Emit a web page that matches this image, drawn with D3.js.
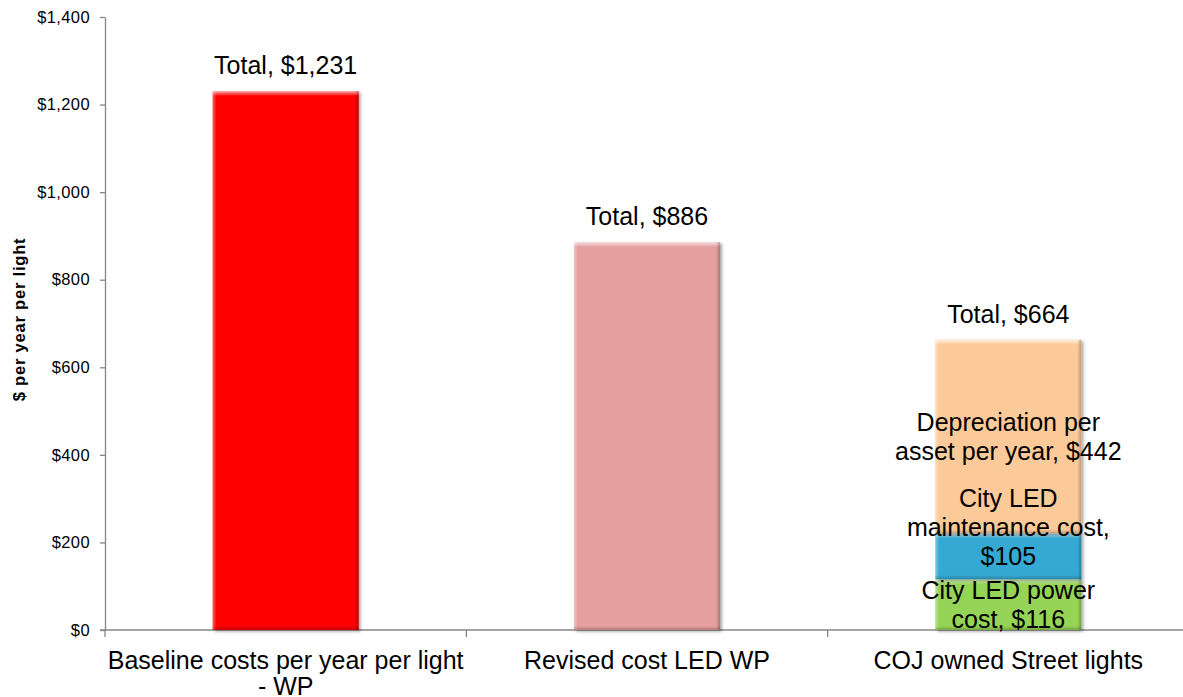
<!DOCTYPE html>
<html>
<head>
<meta charset="utf-8">
<script src="https://cdn.jsdelivr.net/npm/d3@7"></script>
<style>
  html, body { margin: 0; padding: 0; background: #fff; }
  svg { display: block; font-family: "Liberation Sans", Arial, sans-serif; }
</style>
</head>
<body>
<svg id="chart" width="1183" height="697"></svg>
<script>
// ---- data ----
const categories = ["Baseline costs per year per light\n- WP", "Revised cost LED WP", "COJ owned Street lights"];
const baselineValues = [1231, 0, 0];
const revisedValues = [0, 886, 0];
const powerValues = [0, 0, 116];
const maintenanceValues = [0, 0, 105];
const depreciationValues = [0, 0, 442];
const totalLabels = ["Total, $1,231", "Total, $886", "Total, $664"];
const segmentLabels = ["City LED power\ncost, $116", "City LED\nmaintenance cost,\n$105", "Depreciation per\nasset per year, $442"];
const yTicks = [0, 200, 400, 600, 800, 1000, 1200, 1400];
const yTitle = "$ per year per light";

// ---- layout ----
const W = 1183, H = 697;
const plot = { left: 105, right: 1189, top: 17, bottom: 630 };
const svg = d3.select("#chart");

const x = d3.scaleBand().domain(categories).range([plot.left, plot.right]).paddingInner(0).paddingOuter(0);
const barFrac = 0.404;
const barW = x.bandwidth() * barFrac;
const barX = c => x(c) + (x.bandwidth() - barW) / 2;
const y = d3.scaleLinear().domain([0, 1400]).range([plot.bottom, plot.top]);

const defs = svg.append("defs");
const f = defs.append("filter").attr("id", "shadow").attr("x", "-10%").attr("y", "-10%").attr("width", "130%").attr("height", "130%");
f.append("feDropShadow").attr("dx", 2).attr("dy", 1.5).attr("stdDeviation", 1.5).attr("flood-color", "#000").attr("flood-opacity", 0.35);
function grad(id, x2, y2, stops) {
  const g = defs.append("linearGradient").attr("id", id).attr("x1", 0).attr("y1", 0).attr("x2", x2).attr("y2", y2);
  stops.forEach(s => g.append("stop").attr("offset", s[0]).attr("stop-color", s[1]).attr("stop-opacity", s[2]));
}
grad("hiTop", 0, 1, [[0, "#fff", 0.7], [1, "#fff", 0]]);
grad("hiLeft", 1, 0, [[0, "#fff", 0.35], [1, "#fff", 0]]);
grad("shBottom", 0, 1, [[0, "#000", 0], [1, "#000", 0.22]]);
grad("shRight", 1, 0, [[0, "#000", 0], [1, "#000", 0.25]]);

// ---- series ----
const series = [
  { name: "Baseline", values: baselineValues, color: "#FE0404" },
  { name: "Revised", values: revisedValues, color: "#E49F9E" },
  { name: "Power", values: powerValues, color: "#95D456" },
  { name: "Maintenance", values: maintenanceValues, color: "#36A9D3" },
  { name: "Depreciation", values: depreciationValues, color: "#FCCA98" }
];
const stackKeys = series.map(s => s.name);
const rows = categories.map((c, i) => {
  const r = { cat: c };
  series.forEach(s => r[s.name] = s.values[i]);
  return r;
});
const stacked = d3.stack().keys(stackKeys)(rows);

// ---- axes ----
const yAxis = d3.axisLeft(y).tickValues(yTicks).tickSize(5).tickSizeOuter(0).tickPadding(10)
  .tickFormat(d => "$" + d3.format(",")(d));
const gy = svg.append("g").attr("transform", `translate(${plot.left},0)`).call(yAxis);
gy.select(".domain").attr("stroke", "#868686").attr("stroke-width", 1.3);
gy.selectAll(".tick line").attr("stroke", "#868686").attr("stroke-width", 1.3);
gy.selectAll(".tick text").attr("font-size", 16.5).attr("letter-spacing", "0.4px").attr("fill", "#000")
  .attr("font-family", "Liberation Sans, Arial, sans-serif");

const gx = svg.append("g");
gx.append("line").attr("x1", plot.left - 5).attr("x2", plot.right).attr("y1", y(0)).attr("y2", y(0))
  .attr("stroke", "#868686").attr("stroke-width", 1.3);
const boundaries = categories.map(c => x(c)).concat([x(categories[categories.length - 1]) + x.bandwidth()]);
gx.selectAll("line.tk").data(boundaries).join("line").attr("class", "tk")
  .attr("x1", d => d).attr("x2", d => d).attr("y1", y(0)).attr("y2", y(0) + 7)
  .attr("stroke", "#868686").attr("stroke-width", 1.3);

// ---- bars ----
stacked.forEach((layer, li) => {
  const s = series[li];
  layer.forEach((d, i) => {
    if (d[1] - d[0] <= 0) return;
    const c = categories[i];
    const x0 = barX(c), y0 = y(d[1]), h = y(d[0]) - y(d[1]);
    const g = svg.append("g");
    g.append("rect").attr("x", x0).attr("y", y0).attr("width", barW).attr("height", h)
      .attr("fill", s.color).attr("filter", "url(#shadow)");
    g.append("rect").attr("x", x0).attr("y", y0).attr("width", barW).attr("height", Math.min(5, h)).attr("fill", "url(#hiTop)");
    g.append("rect").attr("x", x0).attr("y", y0).attr("width", 4).attr("height", h).attr("fill", "url(#hiLeft)");
    g.append("rect").attr("x", x0 + barW - 4).attr("y", y0).attr("width", 4).attr("height", h).attr("fill", "url(#shRight)");
    g.append("rect").attr("x", x0).attr("y", y0 + h - Math.min(4, h)).attr("width", barW).attr("height", Math.min(4, h)).attr("fill", "url(#shBottom)");
  });
});

// ---- labels ----
const labelSize = 25, lineH = 29;
function multiline(text, cx, cy, shiftLines) {
  const lines = text.split("\n");
  const n = lines.length;
  const t = svg.append("text").attr("text-anchor", "middle").attr("font-size", labelSize).attr("fill", "#000");
  lines.forEach((ln, k) => {
    t.append("tspan").attr("x", cx).attr("y", cy + (k - (n - 1) / 2 - shiftLines) * lineH)
      .attr("dominant-baseline", "central").text(ln);
  });
}
// totals above bars
const totals = rows.map(r => d3.sum(stackKeys, k => r[k]));
categories.forEach((c, i) => {
  svg.append("text").attr("x", x(c) + x.bandwidth() / 2).attr("y", y(totals[i]) - 17)
    .attr("text-anchor", "middle").attr("font-size", labelSize).attr("fill", "#000").text(totalLabels[i]);
});
// segment labels in stacked bar
const segShift = [0, 1, 0];
const segLayers = [2, 3, 4];
segLayers.forEach((li, j) => {
  const d = stacked[li][2];
  const c = categories[2];
  multiline(segmentLabels[j], x(c) + x.bandwidth() / 2, (y(d[0]) + y(d[1])) / 2, segShift[j]);
});
// category labels
categories.forEach(c => {
  const lines = c.split("\n");
  const t = svg.append("text").attr("text-anchor", "middle").attr("font-size", labelSize).attr("fill", "#000");
  lines.forEach((ln, k) => {
    t.append("tspan").attr("x", x(c) + x.bandwidth() / 2).attr("y", y(0) + 39 + k * 26).text(ln);
  });
});
// y title
svg.append("text").attr("transform", `translate(19,${(plot.top + plot.bottom) / 2 - 4}) rotate(-90)`)
  .attr("text-anchor", "middle").attr("dominant-baseline", "central")
  .attr("font-size", 16.5).attr("font-weight", "bold").attr("letter-spacing", "0.8px").attr("fill", "#000").text(yTitle);
</script>
</body>
</html>
